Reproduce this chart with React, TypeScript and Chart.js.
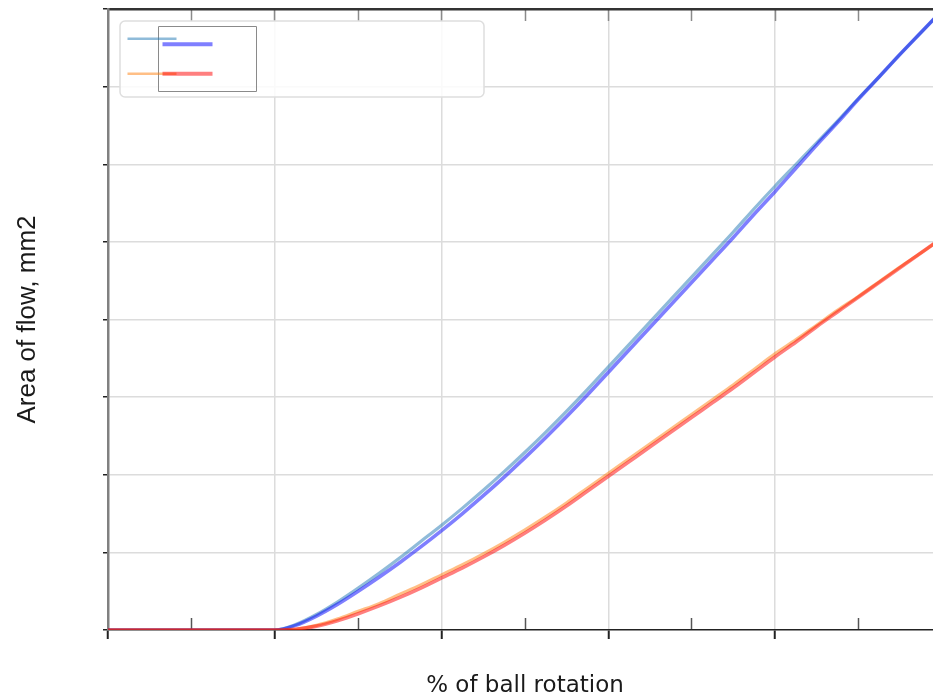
import { useEffect, useRef } from "react";
import { Chart, registerables } from "chart.js";

Chart.register(...registerables);

// % of ball rotation
const rotationPct = [
  0, 10, 20, 22.5, 25, 27.5, 30, 32.5, 35, 37.5, 40, 42.5, 45, 47.5, 50, 52.5,
  55, 57.5, 60, 62.5, 65, 67.5, 70, 72.5, 75, 77.5, 80, 82.5, 85, 87.5, 90,
  92.5, 95, 97.5, 100,
];

// Area of flow (mm2) – four curves
const seriesLightBlue = [
  0, 0, 0, 0.07, 0.2, 0.36, 0.54, 0.73, 0.93, 1.14, 1.35, 1.57, 1.8, 2.04,
  2.29, 2.55, 2.82, 3.1, 3.39, 3.68, 3.97, 4.26, 4.55, 4.84, 5.13, 5.43, 5.72,
  6.0, 6.28, 6.56, 6.85, 7.13, 7.42, 7.7, 7.98,
];
const seriesBlue = [
  0, 0, 0, 0.06, 0.18, 0.33, 0.5, 0.68, 0.87, 1.07, 1.28, 1.5, 1.73, 1.97,
  2.22, 2.48, 2.75, 3.03, 3.32, 3.61, 3.9, 4.19, 4.48, 4.77, 5.06, 5.36, 5.65,
  5.95, 6.25, 6.54, 6.84, 7.13, 7.42, 7.7, 7.98,
];
const seriesOrange = [
  0, 0, 0, 0.01, 0.06, 0.14, 0.24, 0.34, 0.46, 0.58, 0.71, 0.84, 0.98, 1.13,
  1.29, 1.46, 1.64, 1.83, 2.02, 2.21, 2.4, 2.59, 2.78, 2.97, 3.16, 3.36, 3.56,
  3.74, 3.93, 4.12, 4.3, 4.49, 4.68, 4.86, 5.05,
];
const seriesRed = [
  0, 0, 0, 0.01, 0.05, 0.12, 0.21, 0.31, 0.42, 0.54, 0.67, 0.8, 0.94, 1.09,
  1.25, 1.42, 1.6, 1.79, 1.98, 2.17, 2.36, 2.55, 2.74, 2.93, 3.12, 3.32, 3.52,
  3.71, 3.91, 4.1, 4.29, 4.48, 4.67, 4.86, 5.05,
];

const xTicksStep = 10;
const yMax = 8;

const COL_LIGHTBLUE = "rgba(31,119,180,0.5)";
const COL_BLUE = "rgba(0,0,255,0.5)";
const COL_ORANGE = "rgba(255,127,14,0.5)";
const COL_RED = "rgba(255,0,0,0.5)";

const toPoints = (ys: number[]) => rotationPct.map((x, i) => ({ x, y: ys[i] }));

const legendPlugin = {
  id: "dualLegend",
  afterDraw(chart: any) {
    const ctx = chart.ctx as CanvasRenderingContext2D;
    const { left, top } = chart.chartArea;
    const ds = chart.data.datasets;
    ctx.save();
    const ox = left + 12, oy = top + 12, ow = 364, oh = 76;
    ctx.beginPath();
    if ((ctx as any).roundRect) (ctx as any).roundRect(ox, oy, ow, oh, 5);
    else ctx.rect(ox, oy, ow, oh);
    ctx.fillStyle = "rgba(255,255,255,0.85)";
    ctx.fill();
    ctx.strokeStyle = "#dedede";
    ctx.lineWidth = 1.5;
    ctx.stroke();
    ctx.beginPath();
    ctx.rect(left + 50.5, top + 17.5, 98, 65);
    ctx.strokeStyle = "#8a8a8a";
    ctx.lineWidth = 1;
    ctx.stroke();
    const seg = (x1: number, x2: number, y: number, color: string, w: number) => {
      ctx.beginPath();
      ctx.moveTo(left + x1, top + y);
      ctx.lineTo(left + x2, top + y);
      ctx.strokeStyle = color;
      ctx.lineWidth = w;
      ctx.stroke();
    };
    seg(19.5, 68.5, 29.7, ds[0].borderColor, 2.5);
    seg(19.5, 68.5, 64.7, ds[2].borderColor, 2.5);
    seg(54.5, 104.5, 35.3, ds[1].borderColor, 4);
    seg(54.5, 104.5, 64.7, ds[3].borderColor, 4);
    ctx.restore();
  },
};

export default function App() {
  const ref = useRef<HTMLCanvasElement>(null);

  useEffect(() => {
    document.documentElement.style.overflow = "hidden";
    document.body.style.overflow = "hidden";
    document.body.style.marginRight = "0px";
    document.body.style.marginBottom = "0px";
    const canvas = ref.current;
    if (!canvas) return;
    const chart = new Chart(canvas, {
      type: "line",
      data: {
        datasets: [
          { label: "A", data: toPoints(seriesLightBlue), borderColor: COL_LIGHTBLUE, borderWidth: 3.2, order: 4 },
          { label: "B", data: toPoints(seriesBlue), borderColor: COL_BLUE, borderWidth: 3.6, order: 3 },
          { label: "C", data: toPoints(seriesOrange), borderColor: COL_ORANGE, borderWidth: 3.2, order: 2 },
          { label: "D", data: toPoints(seriesRed), borderColor: COL_RED, borderWidth: 3.6, order: 1 },
        ] as any,
      },
      options: {
        animation: false,
        responsive: false,
        devicePixelRatio: 1,
        parsing: false as any,
        elements: {
          point: { radius: 0 },
          line: { cubicInterpolationMode: "monotone", fill: false },
        },
        layout: { padding: { top: 1, right: 16, left: 0, bottom: 0 } },
        plugins: { legend: { display: false }, tooltip: { enabled: false } },
        scales: {
          x: {
            type: "linear",
            position: "bottom",
            min: 0,
            max: 100,
            weight: 1,
            ticks: { stepSize: xTicksStep, display: false },
            grid: {
              color: (c: any) =>
                c.tick && c.tick.value % 20 === 0 && c.tick.value > 0 && c.tick.value < 100
                  ? "#dcdcdc"
                  : "rgba(0,0,0,0)",
              lineWidth: 1.5,
              tickColor: (c: any) => (c.tick && c.tick.value % 20 === 0 ? "#222" : "rgba(0,0,0,0)"),
              tickLength: 9,
              tickWidth: 2,
            },
            border: { display: true, color: "#222", width: 1.5 },
            title: {
              display: true,
              text: "% of ball rotation",
              font: { family: "DejaVu Sans", size: 23 },
              color: "#1a1a1a",
              padding: { top: 0, bottom: 0 },
            },
            afterFit: (s: any) => {
              s.height = 70;
            },
          },
          xMinor: {
            type: "linear",
            position: "bottom",
            min: 0,
            max: 100,
            weight: 0,
            ticks: { stepSize: xTicksStep, display: false },
            grid: {
              drawOnChartArea: false,
              tickLength: -12,
              tickWidth: 1.5,
              tickColor: (c: any) => (c.tick && c.tick.value % 20 !== 0 ? "#555" : "rgba(0,0,0,0)"),
            },
            border: { display: false },
            afterFit: (s: any) => {
              s.height = 0;
            },
          },
          xTop: {
            type: "linear",
            position: "top",
            min: 0,
            max: 100,
            ticks: { stepSize: xTicksStep, display: false },
            grid: {
              drawOnChartArea: false,
              tickLength: -12,
              tickWidth: 1.5,
              tickColor: (c: any) =>
                c.tick && c.tick.value > 0 && c.tick.value < 100 ? "#8a8a8a" : "rgba(0,0,0,0)",
            },
            border: { display: true, color: "#333", width: 2.5 },
            afterFit: (s: any) => {
              s.height = 0;
            },
          },
          y: {
            type: "linear",
            min: 0,
            max: yMax,
            ticks: { stepSize: 1, display: false },
            grid: {
              color: (c: any) =>
                c.tick && c.tick.value > 0 && c.tick.value < yMax ? "#dcdcdc" : "rgba(0,0,0,0)",
              lineWidth: 1.5,
              tickLength: 5,
              tickColor: "#222",
              tickWidth: 1.5,
            },
            border: { display: true, color: "#808080", width: 2.5 },
            title: {
              display: true,
              text: "Area of flow, mm2",
              font: { family: "Liberation Sans", size: 26 },
              color: "#1a1a1a",
              padding: { top: 4, bottom: 0 },
            },
            afterFit: (s: any) => {
              s.width = 100;
            },
          },
        } as any,
      },
      plugins: [legendPlugin],
    });
    return () => chart.destroy();
  }, []);

  return (
    <div style={{ width: 950, height: 692, overflow: "hidden", position: "relative" }}>
      <canvas ref={ref} width={950} height={692} style={{ display: "block", width: 950, height: 692 }} />
    </div>
  );
}
